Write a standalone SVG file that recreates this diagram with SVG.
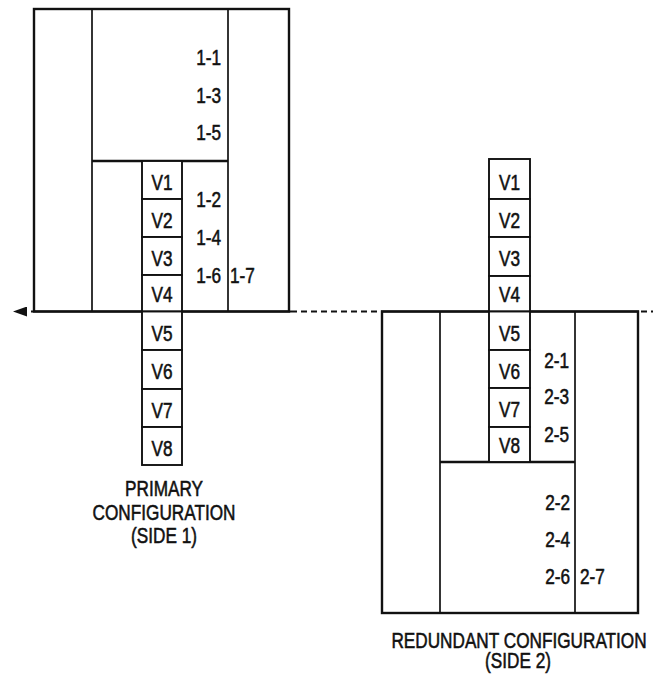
<svg xmlns="http://www.w3.org/2000/svg" width="653" height="677" viewBox="0 0 653 677">
<style>
.bg{fill:#fff}
.outer{fill:none;stroke:#111;stroke-width:2.4}
.inner{fill:none;stroke:#111;stroke-width:1.7}
.vbox{fill:#fff;stroke:#111;stroke-width:1.9}
.t{font-family:"Liberation Sans",Arial,sans-serif;font-size:21.5px;fill:#111;stroke:#111;stroke-width:0.55}
.m{text-anchor:middle}
.e{text-anchor:end}
.axis{stroke:#111;stroke-width:2;fill:none}
.dash{stroke:#111;stroke-width:2;fill:none;stroke-dasharray:6 4}
</style>
<defs>
<marker id="arrow" markerUnits="userSpaceOnUse" markerWidth="14" markerHeight="10" refX="-4" refY="5" orient="auto-start-reverse" viewBox="0 0 14 10">
<path d="M0,0 L14,5 L0,10 z" fill="#111"/>
</marker>
</defs>
<rect class="bg" x="0" y="0" width="653" height="677"/>

<g id="primary-panel">
<rect class="outer" x="34" y="9" width="255" height="302.5"/>
<line class="inner" x1="92" y1="9" x2="92" y2="311.5"/>
<line class="inner" x1="228" y1="9" x2="228" y2="311.5"/>
<line class="outer" x1="92" y1="161" x2="228" y2="161"/>
<text class="t e" transform="translate(221,65) scale(0.8,1)">1-1</text>
<text class="t e" transform="translate(221,103) scale(0.8,1)">1-3</text>
<text class="t e" transform="translate(221,140) scale(0.8,1)">1-5</text>
<text class="t e" transform="translate(221,207) scale(0.8,1)">1-2</text>
<text class="t e" transform="translate(221,245) scale(0.8,1)">1-4</text>
<text class="t e" transform="translate(221,283) scale(0.8,1)">1-6</text>
<text class="t" transform="translate(230,283) scale(0.8,1)">1-7</text>
</g>

<g id="redundant-panel">
<rect class="outer" x="382" y="311.5" width="256" height="301.5"/>
<line class="inner" x1="440" y1="311.5" x2="440" y2="613"/>
<line class="inner" x1="575" y1="311.5" x2="575" y2="613"/>
<line class="outer" x1="440" y1="462" x2="575" y2="462"/>
<text class="t e" transform="translate(569,368) scale(0.8,1)">2-1</text>
<text class="t e" transform="translate(569,404) scale(0.8,1)">2-3</text>
<text class="t e" transform="translate(569,442) scale(0.8,1)">2-5</text>
<text class="t e" transform="translate(570,510) scale(0.8,1)">2-2</text>
<text class="t e" transform="translate(570,547) scale(0.8,1)">2-4</text>
<text class="t e" transform="translate(570,584) scale(0.8,1)">2-6</text>
<text class="t" transform="translate(580,584) scale(0.8,1)">2-7</text>
</g>

<g id="connectors">
<line class="axis" x1="31" y1="311.5" x2="291" y2="311.5" marker-start="url(#arrow)"/>
<line class="dash" x1="291" y1="311.5" x2="381" y2="311.5"/>
<line class="axis" x1="381" y1="311.5" x2="639" y2="311.5"/>
<line class="dash" x1="641" y1="311.5" x2="653" y2="311.5"/>
</g>

<g id="primary-v1"><rect class="vbox" x="142" y="161" width="40" height="38"/><text class="t m" transform="translate(162,189.5) scale(0.8,1)">V1</text></g>
<g id="primary-v2"><rect class="vbox" x="142" y="199" width="40" height="38"/><text class="t m" transform="translate(162,227.5) scale(0.8,1)">V2</text></g>
<g id="primary-v3"><rect class="vbox" x="142" y="237" width="40" height="38"/><text class="t m" transform="translate(162,265.5) scale(0.8,1)">V3</text></g>
<g id="primary-v4"><rect class="vbox" x="142" y="275" width="40" height="36.5"/><text class="t m" transform="translate(162,302) scale(0.8,1)">V4</text></g>
<g id="primary-v5"><rect class="vbox" x="142" y="311.5" width="40" height="38.5"/><text class="t m" transform="translate(162,340.5) scale(0.8,1)">V5</text></g>
<g id="primary-v6"><rect class="vbox" x="142" y="350" width="40" height="39"/><text class="t m" transform="translate(162,379) scale(0.8,1)">V6</text></g>
<g id="primary-v7"><rect class="vbox" x="142" y="389" width="40" height="38"/><text class="t m" transform="translate(162,417.5) scale(0.8,1)">V7</text></g>
<g id="primary-v8"><rect class="vbox" x="142" y="427" width="40" height="38"/><text class="t m" transform="translate(162,455.5) scale(0.8,1)">V8</text></g>

<g id="redundant-v1"><rect class="vbox" x="489" y="159" width="41" height="40"/><text class="t m" transform="translate(509.5,189.5) scale(0.8,1)">V1</text></g>
<g id="redundant-v2"><rect class="vbox" x="489" y="199" width="41" height="38"/><text class="t m" transform="translate(509.5,227.5) scale(0.8,1)">V2</text></g>
<g id="redundant-v3"><rect class="vbox" x="489" y="237" width="41" height="39"/><text class="t m" transform="translate(509.5,266) scale(0.8,1)">V3</text></g>
<g id="redundant-v4"><rect class="vbox" x="489" y="276" width="41" height="35.5"/><text class="t m" transform="translate(509.5,302) scale(0.8,1)">V4</text></g>
<g id="redundant-v5"><rect class="vbox" x="489" y="311.5" width="41" height="38.5"/><text class="t m" transform="translate(509.5,340.5) scale(0.8,1)">V5</text></g>
<g id="redundant-v6"><rect class="vbox" x="489" y="350" width="41" height="38"/><text class="t m" transform="translate(509.5,378.5) scale(0.8,1)">V6</text></g>
<g id="redundant-v7"><rect class="vbox" x="489" y="388" width="41" height="39"/><text class="t m" transform="translate(509.5,417) scale(0.8,1)">V7</text></g>
<g id="redundant-v8"><rect class="vbox" x="489" y="427" width="41" height="35"/><text class="t m" transform="translate(509.5,453) scale(0.8,1)">V8</text></g>

<g id="primary-caption">
<text class="t m" transform="translate(164,496) scale(0.8,1)">PRIMARY</text>
<text class="t m" transform="translate(164,520) scale(0.8,1)">CONFIGURATION</text>
<text class="t m" transform="translate(164,543) scale(0.8,1)">(SIDE 1)</text>
</g>
<g id="redundant-caption">
<text class="t m" transform="translate(519,648) scale(0.8,1)">REDUNDANT CONFIGURATION</text>
<text class="t m" transform="translate(518,668) scale(0.8,1)">(SIDE 2)</text>
</g>
</svg>
